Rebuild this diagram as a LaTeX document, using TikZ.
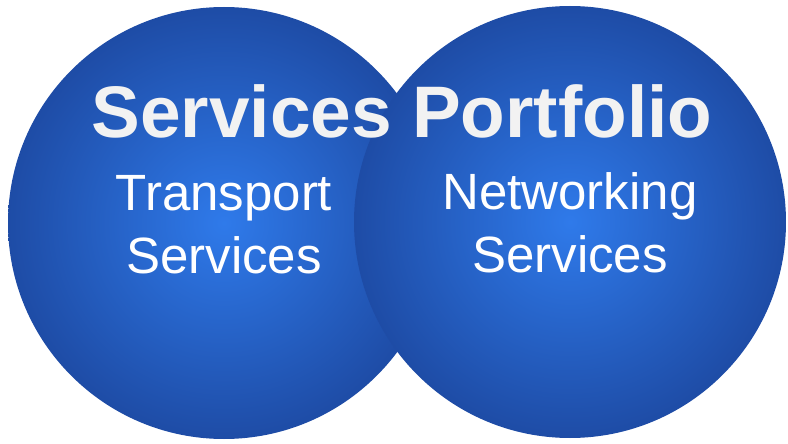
\documentclass[tikz,border=0pt]{standalone}
\usepackage{fontspec}
\setmainfont{Liberation Sans}
\usetikzlibrary{positioning}
\definecolor{ballrim}{RGB}{30,76,166}
\definecolor{ballctr}{RGB}{47,122,234}
\definecolor{titlegray}{RGB}{242,242,242}

\begin{document}
\begin{tikzpicture}[x=1pt,y=-1pt]
\useasboundingbox (0,0) rectangle (788,444);
\tikzstyle{ball}=[circle, minimum size=432pt, inner sep=0pt,
  inner color=ballctr, outer color=ballrim];
\tikzstyle{label}=[text=white, anchor=base, align=center,
  font=\fontsize{51}{63}\selectfont];

  % the two circles, right one drawn on top
  \node(transportball)[ball] at (224,223) {};
  \node(networkball)[ball] at (570,222) {};

  \node(title)[anchor=base, text=titlegray,
    font=\fontsize{73}{80}\selectfont\bfseries] at (402,137) {Services Portfolio};

  % base of a two-line node sits on its last line
  \node(transport)[label] at (224,273) {Transport\\Services};
  \node(networking)[label] at (570,272) {Networking\\Services};

\end{tikzpicture}
\end{document}
